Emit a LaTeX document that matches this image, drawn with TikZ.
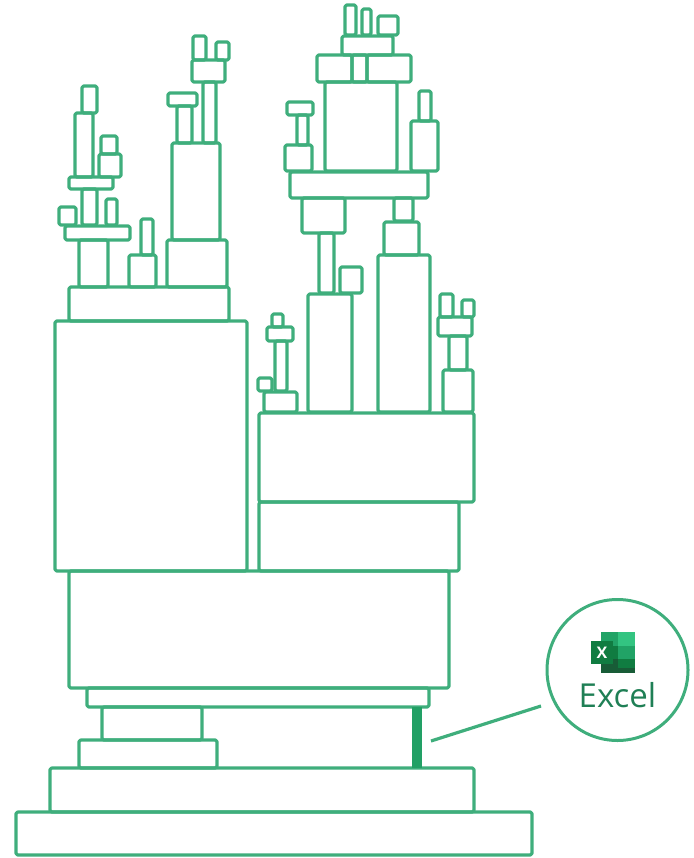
\documentclass[tikz,border=0pt]{standalone}
\usepackage{fontspec}
\setmainfont{Open Sans}
\definecolor{linegreen}{HTML}{3FAE7C}
\definecolor{bargreen}{HTML}{22A065}
\definecolor{labelgreen}{HTML}{1F7F55}
\definecolor{xa}{HTML}{21A366}
\definecolor{xb}{HTML}{33C481}
\definecolor{xc}{HTML}{107C41}
\definecolor{xd}{HTML}{185C37}
\tikzset{
  blockbox/.style={draw=linegreen,line width=3.1pt,rounded corners=1.6pt,line join=round},
  leader/.style={draw=linegreen,line width=3.2pt},
}
\begin{document}
\begin{tikzpicture}[x=1pt,y=-1pt]
\useasboundingbox (0,0) rectangle (693,858);
% all blocks: x0/y0/x1/y1 in reference pixels
\foreach \xa/\ya/\xb/\yb in {
  82/86/97/113, 75/113/93/177, 101/136/117/154, 99/154/121/177, 69/177/113/189,
  82/189/97/225, 59/207/76/225, 106/199/117/225, 65/226/130/240, 79/240/108/287,
  129/255/156/287, 141/219/153/255, 167/240/227/287, 172/143/220/240, 177/106/192/143,
  168/93/197/106, 203/82/216/143, 192/60/225/82, 193/36/206/60, 216/42/229/60,
  69/287/229/321, 55/321/247/571,
  345/5/356/35, 362/9/371/35, 378/16/398/35, 342/36/393/55, 317/55/352/82, 352/55/367/82,
  367/55/411/82, 325/82/397/171, 287/102/313/115, 297/115/308/145, 285/145/312/171,
  419/91/431/121, 411/121/438/171, 290/172/428/198,
  302/198/345/233, 319/233/334/293, 340/267/362/293, 308/294/352/412,
  394/198/413/221, 384/222/419/255, 378/255/430/412,
  440/294/453/317, 462/300/474/317, 438/317/472/336, 449/336/467/370, 443/370/473/412,
  272/314/283/327, 267/327/293/341, 275/341/287/391, 258/378/272/391, 264/392/297/412,
  259/413/474/502, 259/502/459/571, 69/571/449/688, 87/688/429/707, 102/707/202/740,
  79/740/217/768, 50/768/474/812, 16/812/532/855}
  {\draw[blockbox] (\xa,\ya) rectangle (\xb,\yb);}
\fill[bargreen] (412,707) rectangle (422,768);
\node[circle,draw=linegreen,line width=3pt,minimum size=141pt,inner sep=0pt] (callout) at (617.5,670) {};
\coordinate (barside) at (431,741);
\coordinate (calloutside) at (541,706);
\draw[leader] (barside) -- (calloutside);
% Excel icon
\fill[xa] (601,632) rectangle (618,646);
\fill[xb] (618,632) rectangle (635,646);
\fill[xc] (601,646) rectangle (618,659);
\fill[xa] (618,646) rectangle (635,659);
\fill[xd] (601,659) rectangle (618,673);
\fill[xc] (618,659) rectangle (635,673);
\fill[xd] (601,668) rectangle (635,673);
\fill[xc] (591,641) rectangle (613,664);
\node[text=white,font=\bfseries\fontsize{16}{16}\selectfont,inner sep=0pt] (iconx) at (602,652.5) {X};
\node[text=labelgreen,font=\fontsize{33}{33}\selectfont,inner sep=0pt,anchor=base] (label) at (617.5,707) {Excel};
\end{tikzpicture}
\end{document}
